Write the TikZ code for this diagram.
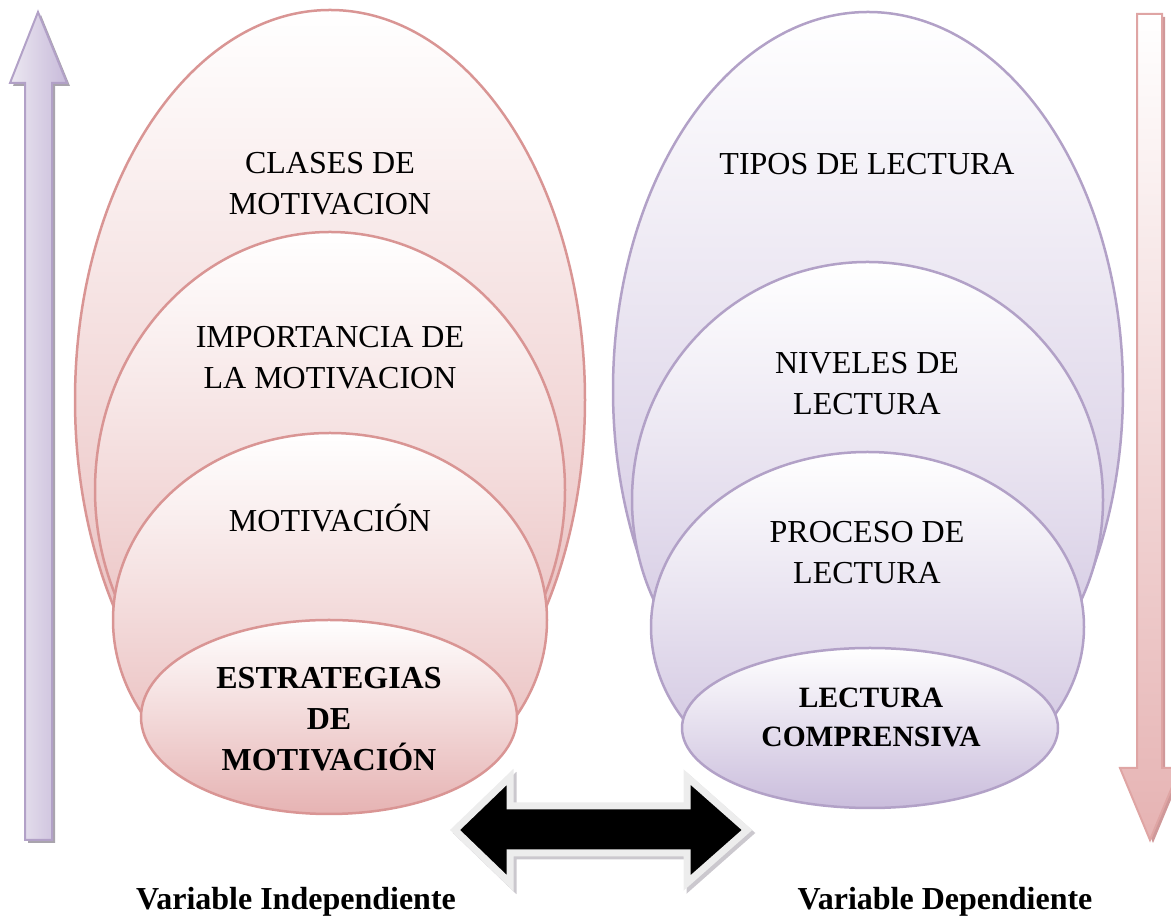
\documentclass[tikz,border=0pt]{standalone}
\usepackage{fontspec}
\setmainfont{Liberation Serif}
\usetikzlibrary{positioning}
\definecolor{rosa}{HTML}{D99594}
\definecolor{rosafondo}{HTML}{E6B3B3}
\definecolor{lila}{HTML}{B2A1C7}
\definecolor{lilafondo}{HTML}{CABDDC}
\definecolor{sombra}{HTML}{A9A4AD}
\begin{document}
\begin{tikzpicture}[x = 1pt, y = 1pt,
		capa/.style = {line width = 2.5pt},
		capa rosa/.style = {capa, draw = rosa, top color = white, bottom color = rosafondo},
		capa lila/.style = {capa, draw = lila, top color = white, bottom color = lilafondo},
		texto/.style = {align = center, font = \fontsize{32}{41}\selectfont},
		negrita/.style = {align = center, font = \fontsize{32}{41}\selectfont\bfseries}]
	\useasboundingbox (0, 0) rectangle (1171, 918);
	\clip (0, 0) rectangle (1171, 918);
	\fill [sombra] (41, 903) -- (13, 832) -- (28, 832) -- (28, 75) -- (55, 75) -- (55, 832) -- (70, 832) -- cycle;
	\draw [line width = 2pt, draw = lila, left color = lila!25, right color = lilafondo!90!lila] (38, 906) -- (10, 835) -- (25, 835) -- (25, 78) -- (52, 78) -- (52, 835) -- (67, 835) -- cycle;
	\fill [rosa!80!sombra] (1140, 901) -- (1165, 901) -- (1165, 147) -- (1183, 147) -- (1153, 75) -- (1123, 147) -- (1140, 147) -- cycle;
	\draw [line width = 2pt, draw = rosa!85, top color = white, bottom color = rosafondo] (1137, 904) -- (1162, 904) -- (1162, 150) -- (1180, 150) -- (1150, 78) -- (1120, 150) -- (1137, 150) -- cycle;
	\draw [capa rosa] (330, 518) ellipse [x radius = 255, y radius = 390];
	\draw [capa rosa] (330, 428) ellipse [x radius = 235, y radius = 258];
	\draw [capa rosa] (330, 298) ellipse [x radius = 217, y radius = 187];
	\draw [capa rosa] (329, 201) ellipse [x radius = 188, y radius = 97];
	\draw [capa lila] (868, 528) ellipse [x radius = 255, y radius = 378];
	\draw [capa lila] (867.5, 418) ellipse [x radius = 235.5, y radius = 238];
	\draw [capa lila] (867.5, 291) ellipse [x radius = 216.5, y radius = 175];
	\draw [capa lila] (870, 190) ellipse [x radius = 188, y radius = 80];
	\draw [line width = 7pt, sombra!60, line join = miter] (458, 85) -- (513, 138) -- (513, 109) -- (690, 109) -- (690, 138) -- (750, 85) -- (690, 32) -- (690, 62) -- (513, 62) -- (513, 32) -- cycle;
	\draw [line width = 7pt, draw = black!7, fill = black, line join = miter] (455, 88) -- (510, 141) -- (510, 112) -- (687, 112) -- (687, 141) -- (747, 88) -- (687, 35) -- (687, 65) -- (510, 65) -- (510, 35) -- cycle;
	\node [texto] (clases) at (330, 734) {CLASES DE\\MOTIVACION};
	\node [texto] (importancia) at (330, 560) {IMPORTANCIA DE\\LA MOTIVACION};
	\node [texto] (motivacion) at (330, 400) {MOTIVACIÓN};
	\node [negrita] (estrategias) at (329, 199) {ESTRATEGIAS\\DE\\MOTIVACIÓN};
	\node [texto] (tipos) at (867, 754) {TIPOS DE LECTURA};
	\node [texto] (niveles) at (867, 534) {NIVELES DE\\LECTURA};
	\node [texto] (proceso) at (867, 365) {PROCESO DE\\LECTURA};
	\node [negrita, font = \fontsize{29.5}{39}\selectfont\bfseries] (comprensiva) at (871, 201) {LECTURA\\COMPRENSIVA};
	\node [negrita, anchor = base] (independiente) at (296, 8) {Variable Independiente};
	\node [negrita, anchor = base] (dependiente) at (945, 8) {Variable Dependiente};
\end{tikzpicture}
\end{document}
